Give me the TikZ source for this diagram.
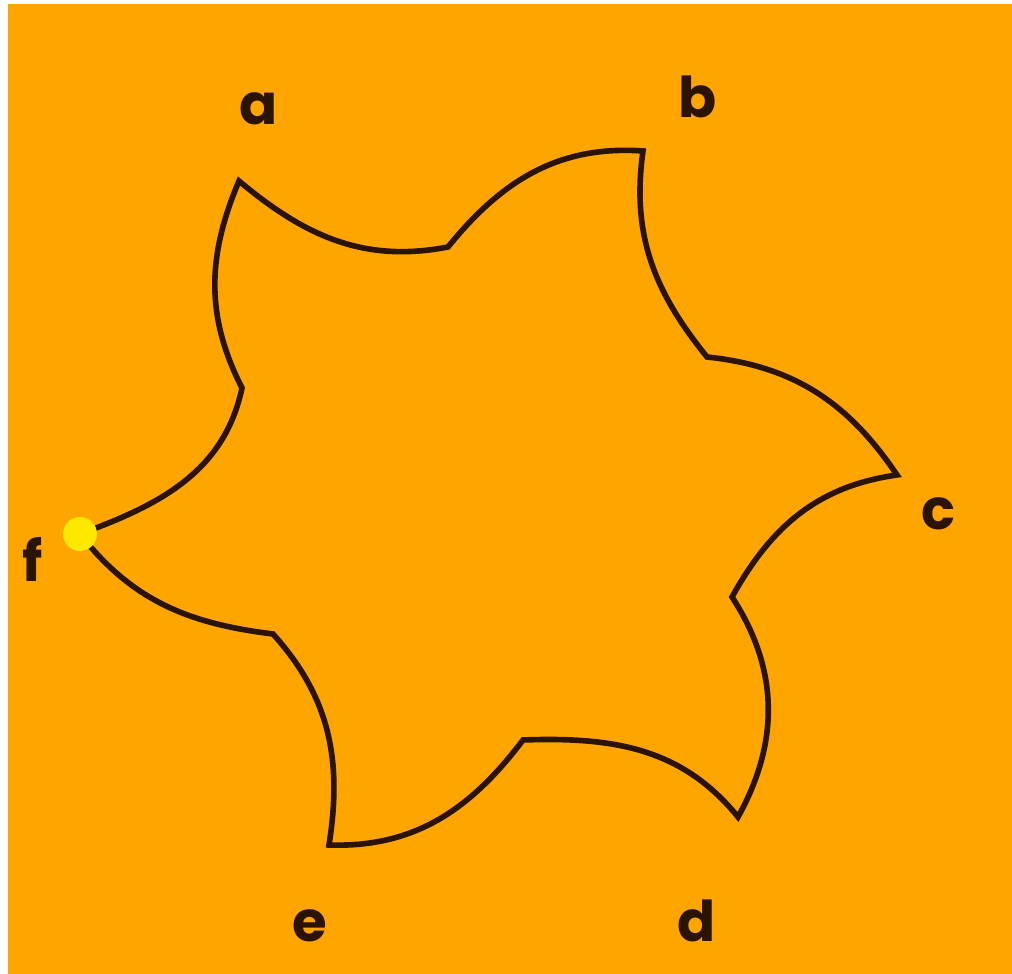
\documentclass[tikz,border=0pt]{standalone}
\usepackage{fontspec}
\usepackage{xcolor}
\definecolor{backdrop}{HTML}{FFA500}
\definecolor{ink}{HTML}{2A1300}
\definecolor{marker}{HTML}{FFE800}
\newfontfamily\lblfont{Poppins}
\usepackage{tikz}
\newcommand{\lbl}{\lblfont\bfseries\fontsize{16}{19}\selectfont}

\begin{document}
\begin{tikzpicture}[
    x=0.01cm, y=0.01cm,
    outline/.style={draw=ink, line width=1.6pt, line join=miter},
    tiplabel/.style={font=\lbl, text=ink, anchor=base, inner sep=0pt},
    dot/.style={circle, fill=marker, minimum size=0.34cm, inner sep=0pt}
]
% page and background
\fill[white] (0,0) rectangle (1012,974);
\fill[backdrop] (8,0) rectangle (1012,970);

% outer tips
\coordinate (a) at (239,793);
\coordinate (b) at (643,823);
\coordinate (c) at (897,499);
\coordinate (d) at (738,157);
\coordinate (e) at (329,129);
\coordinate (f) at (80,440);
% inner corners
\coordinate (ab) at (448,727);
\coordinate (bc) at (707,617);
\coordinate (cd) at (732,377);
\coordinate (de) at (523,234);
\coordinate (ef) at (273,340);
\coordinate (fa) at (242,586);

\draw[outline] (a) to[out=-40,in=191] (ab) to[out=51,in=176] (b)
    to[out=-98,in=129] (bc) to[out=-6,in=124] (c)
    to[out=188,in=61] (cd) to[out=-57,in=61] (d)
    to[out=129,in=2] (de) to[out=233,in=-2] (e)
    to[out=81,in=-48] (ef) to[out=173,in=-52] (f)
    to[out=20,in=-102] (fa) to[out=117,in=247] cycle;

\node[dot] (start) at (f) {};

\node[tiplabel] (la) at (259,849) {a};
\node[tiplabel] (lb) at (698,856) {b};
\node[tiplabel] (lc) at (939,444) {c};
\node[tiplabel] (ld) at (697,32) {d};
\node[tiplabel] (le) at (310,32) {e};
\node[tiplabel] (lf) at (33,392) {f};
\end{tikzpicture}
\end{document}
